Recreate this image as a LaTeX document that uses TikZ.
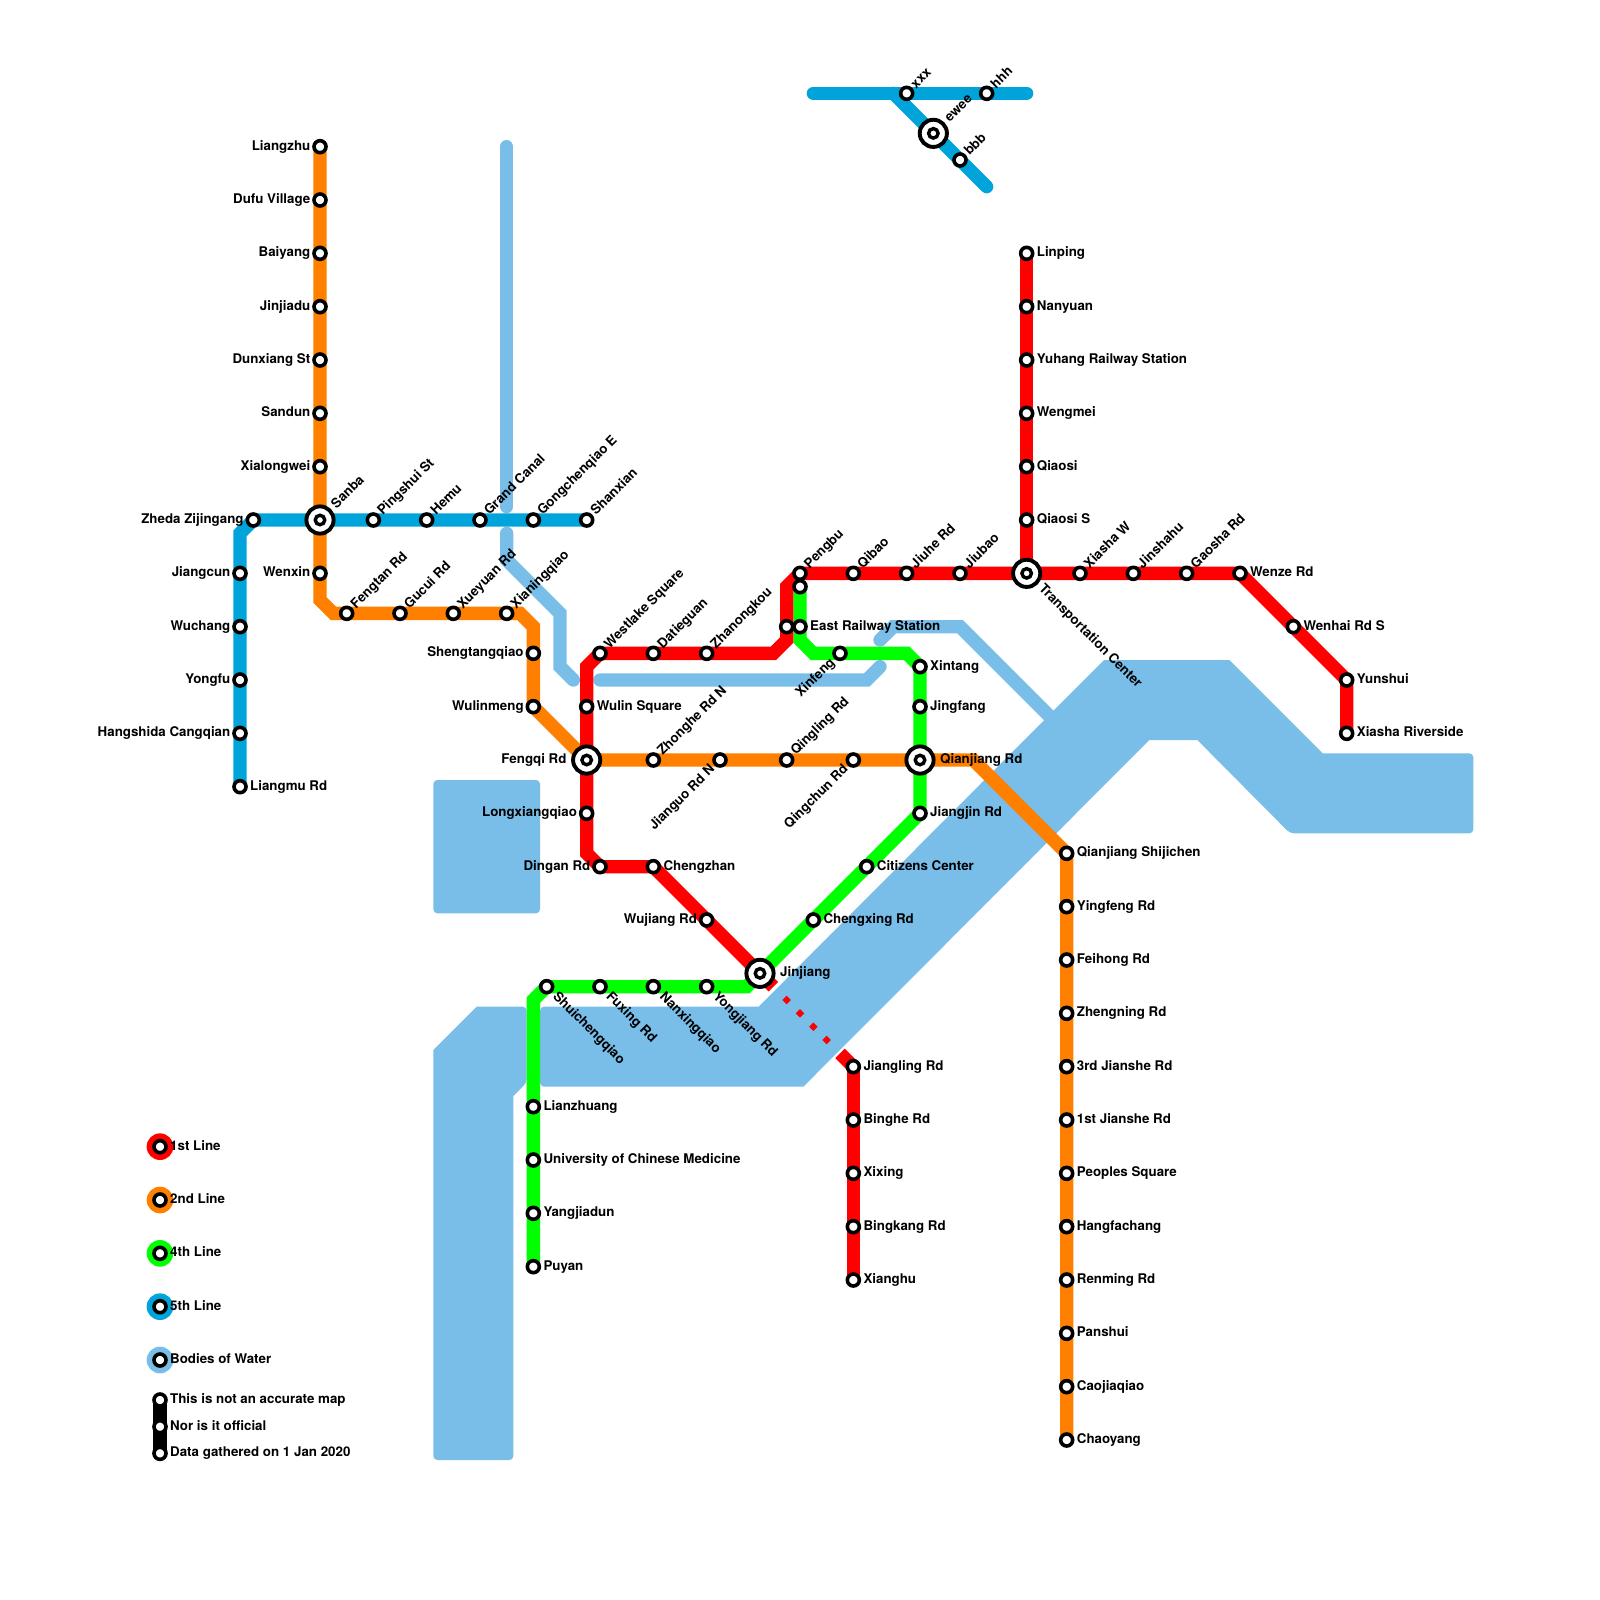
\documentclass[tikz,border=0pt]{standalone}
\usepackage{fontspec}
\setmainfont{TeX Gyre Heros}
\usetikzlibrary{shapes.geometric}
\pgfdeclarelayer{under}
\pgfsetlayers{under,main}
\definecolor{cred}{HTML}{FF0000}
\definecolor{corange}{HTML}{FF8000}
\definecolor{cgreen}{HTML}{00FF00}
\definecolor{cblue}{HTML}{00A4DB}
\definecolor{cwater}{HTML}{79BDE9}
\tikzset{
  stn/.style={circle,draw=black,fill=white,line width=3.6pt,inner sep=0pt,outer sep=0pt,minimum size=12pt},
  ringout/.style={circle,draw=black,fill=white,line width=3.9pt,inner sep=0pt,outer sep=0pt,minimum size=27.2pt},
  ringin/.style={circle,draw=black,fill=white,line width=3.4pt,inner sep=0pt,outer sep=0pt,minimum size=9.5pt},
  lab/.style={inner sep=0pt,text height=9.6pt,text depth=2.8pt,font=\bfseries\fontsize{13.33}{15}\selectfont,text=black},
  lr/.style={xshift=10pt,anchor=west},
  ll/.style={xshift=-9.5pt,anchor=east},
  lu/.style={xshift=7pt,yshift=6.5pt,anchor=west,rotate=45},
  ld/.style={xshift=8pt,yshift=-8pt,anchor=west,rotate=-45},
  lb/.style={xshift=-7pt,yshift=-7.5pt,anchor=east,rotate=45},
  ichr/.style={xshift=20pt,anchor=west},
  ichl/.style={xshift=-20pt,anchor=east},
  ichu/.style={xshift=14pt,yshift=13pt,anchor=west,rotate=45},
  ichd/.style={xshift=14pt,yshift=-14pt,anchor=west,rotate=-45},
  rte/.style={line width=13.33pt,line cap=round,line join=miter,draw=#1},
  cut/.style={line width=13.33pt,line cap=butt,draw=#1},
  waterway/.style={line width=13.33pt,line cap=round,line join=miter,draw=cwater},
  waterarea/.style={fill=cwater},
  tunneldot/.style={diamond,fill=cred,inner sep=0pt,outer sep=0pt,minimum size=8.5pt},
  keydot/.style={circle,fill=#1,inner sep=0pt,outer sep=0pt,minimum size=26.67pt},
}
\newcommand\Sta[5]{\node[stn] (#2) at (#3,#4) {}; \node[lab,#1] (#2t) at (#2.center) {#5};}
\newcommand\Blank[3]{\node[stn] (#1) at (#2,#3) {};}
\newcommand\Ich[5]{\node[ringout] (#2o) at (#3,#4) {}; \node[ringin] (#2) at (#3,#4) {}; \node[lab,#1] (#2t) at (#2.center) {#5};}
\newcommand\Route[3]{\draw[rte=#1] (#2.center) foreach \n in {#3} { -- (\n.center) };}
\begin{document}
\begin{tikzpicture}[x=13.3333pt,y=-13.3333pt]
\useasboundingbox (0,0) rectangle (120,120);
% ---- bends
\foreach \nm/\xx/\yy in {
 oa/24/45, ob/25/46, oc/39/46, od/40/47, oe/73/57,
 ra/60/43, rb/59/44, rc/59/48, rd/58/49, re/44/50, rf/44/64, rg/63/79, rh/58/74,
 ga/40/75, gb/56/74, gc/69/50, gd/68/49, ge/61/49, gf/60/48,
 ba/18/40, bb/61/7, bc/77/7, bd/67/7, be/74/14,
 wa/38/11, wb/38/38, wc/38/40, wd/38/42, we/42/46, wf/42/50, wg/43/51,
 wh/45/51, wi/65/51, wj/66/50, wk/66/48, wl/67/47, wm/72/47, wn/80/55
}{\coordinate (\nm) at (\xx,\yy);}
% ---- line 2 stations
\Sta{ll}{liangzhu}{24}{11}{Liangzhu}
\Sta{ll}{dufu}{24}{15}{Dufu Village}
\Sta{ll}{baiyang}{24}{19}{Baiyang}
\Sta{ll}{jinjiadu}{24}{23}{Jinjiadu}
\Sta{ll}{dunxiang}{24}{27}{Dunxiang St}
\Sta{ll}{sandun}{24}{31}{Sandun}
\Sta{ll}{xialongwei}{24}{35}{Xialongwei}
\Ich{ichu}{sanba}{24}{39}{Sanba}
\Sta{ll}{wenxin}{24}{43}{Wenxin}
\Sta{lu}{fengtan}{26}{46}{Fengtan Rd}
\Sta{lu}{gucui}{30}{46}{Gucui Rd}
\Sta{lu}{xueyuan}{34}{46}{Xueyuan Rd}
\Sta{lu}{xianing}{38}{46}{Xianingqiao}
\Sta{ll}{shengtang}{40}{49}{Shengtangqiao}
\Sta{ll}{wulinmeng}{40}{53}{Wulinmeng}
\Ich{ichl}{fengqi}{44}{57}{Fengqi Rd}
\Sta{lu}{zhonghe}{49}{57}{Zhonghe Rd N}
\Sta{lb}{jianguo}{54}{57}{Jianguo Rd N}
\Sta{lu}{qingling}{59}{57}{Qingling Rd}
\Sta{lb}{qingchun}{64}{57}{Qingchun Rd}
\Ich{ichr}{qianjiang}{69}{57}{Qianjiang Rd}
\Sta{lr}{shijichen}{80}{64}{Qianjiang Shijichen}
\Sta{lr}{yingfeng}{80}{68}{Yingfeng Rd}
\Sta{lr}{feihong}{80}{72}{Feihong Rd}
\Sta{lr}{zhengning}{80}{76}{Zhengning Rd}
\Sta{lr}{jianshec}{80}{80}{3rd Jianshe Rd}
\Sta{lr}{jianshea}{80}{84}{1st Jianshe Rd}
\Sta{lr}{peoples}{80}{88}{Peoples Square}
\Sta{lr}{hangfa}{80}{92}{Hangfachang}
\Sta{lr}{renming}{80}{96}{Renming Rd}
\Sta{lr}{panshui}{80}{100}{Panshui}
\Sta{lr}{caojia}{80}{104}{Caojiaqiao}
\Sta{lr}{chaoyang}{80}{108}{Chaoyang}
% ---- line 5 stations
\Sta{lr}{liangmu}{18}{59}{Liangmu Rd}
\Sta{ll}{hangshida}{18}{55}{Hangshida Cangqian}
\Sta{ll}{yongfu}{18}{51}{Yongfu}
\Sta{ll}{wuchang}{18}{47}{Wuchang}
\Sta{ll}{jiangcun}{18}{43}{Jiangcun}
\Sta{ll}{zheda}{19}{39}{Zheda Zijingang}
\Sta{lu}{pingshui}{28}{39}{Pingshui St}
\Sta{lu}{hemu}{32}{39}{Hemu}
\Sta{lu}{grandcanal}{36}{39}{Grand Canal}
\Sta{lu}{gongchen}{40}{39}{Gongchenqiao E}
\Sta{lu}{shanxian}{44}{39}{Shanxian}
\Sta{lu}{xxx}{68}{7}{xxx}
\Sta{lu}{hhh}{74}{7}{hhh}
\Ich{ichu}{ewee}{70}{10}{ewee}
\Sta{lu}{bbb}{72}{12}{bbb}
% ---- line 1 stations
\Sta{lr}{linping}{77}{19}{Linping}
\Sta{lr}{nanyuan}{77}{23}{Nanyuan}
\Sta{lr}{yuhang}{77}{27}{Yuhang Railway Station}
\Sta{lr}{wengmei}{77}{31}{Wengmei}
\Sta{lr}{qiaosi}{77}{35}{Qiaosi}
\Sta{lr}{qiaosis}{77}{39}{Qiaosi S}
\Ich{ichd}{transport}{77}{43}{Transportation Center}
\Sta{lu}{xiashaw}{81}{43}{Xiasha W}
\Sta{lu}{jinshahu}{85}{43}{Jinshahu}
\Sta{lu}{gaosha}{89}{43}{Gaosha Rd}
\Sta{lr}{wenze}{93}{43}{Wenze Rd}
\Sta{lr}{wenhai}{97}{47}{Wenhai Rd S}
\Sta{lr}{yunshui}{101}{51}{Yunshui}
\Sta{lr}{riverside}{101}{55}{Xiasha Riverside}
\Sta{lu}{pengbu}{60}{43}{Pengbu}
\Sta{lu}{qibao}{64}{43}{Qibao}
\Sta{lu}{jiuhe}{68}{43}{Jiuhe Rd}
\Sta{lu}{jiubao}{72}{43}{Jiubao}
\Blank{eastr}{59}{47}
\Sta{lu}{zhanong}{53}{49}{Zhanongkou}
\Sta{lu}{datie}{49}{49}{Datieguan}
\Sta{lu}{westlake}{45}{49}{Westlake Square}
\Sta{lr}{wulinsq}{44}{53}{Wulin Square}
\Sta{ll}{longxiang}{44}{61}{Longxiangqiao}
\Sta{ll}{dingan}{45}{65}{Dingan Rd}
\Sta{lr}{chengzhan}{49}{65}{Chengzhan}
\Sta{ll}{wujiang}{53}{69}{Wujiang Rd}
\Ich{ichr}{jinjiang}{57}{73}{Jinjiang}
\Sta{lr}{jiangling}{64}{80}{Jiangling Rd}
\Sta{lr}{binghe}{64}{84}{Binghe Rd}
\Sta{lr}{xixing}{64}{88}{Xixing}
\Sta{lr}{bingkang}{64}{92}{Bingkang Rd}
\Sta{lr}{xianghu}{64}{96}{Xianghu}
\node[tunneldot] (tda) at (59,75) {};
\node[tunneldot] (tdb) at (60,76) {};
\node[tunneldot] (tdc) at (61,77) {};
\node[tunneldot] (tdd) at (62,78) {};
% ---- line 4 stations
\Sta{lr}{puyan}{40}{95}{Puyan}
\Sta{lr}{yangjia}{40}{91}{Yangjiadun}
\Sta{lr}{univ}{40}{87}{University of Chinese Medicine}
\Sta{lr}{lianzhuang}{40}{83}{Lianzhuang}
\Sta{ld}{shuicheng}{41}{74}{Shuichengqiao}
\Sta{ld}{fuxing}{45}{74}{Fuxing Rd}
\Sta{ld}{nanxing}{49}{74}{Nanxingqiao}
\Sta{ld}{yongjiang}{53}{74}{Yongjiang Rd}
\Sta{lr}{chengxing}{61}{69}{Chengxing Rd}
\Sta{lr}{citizens}{65}{65}{Citizens Center}
\Sta{lr}{jiangjin}{69}{61}{Jiangjin Rd}
\Sta{lr}{jingfang}{69}{53}{Jingfang}
\Sta{lr}{xintang}{69}{50}{Xintang}
\Sta{lb}{xinfeng}{63}{49}{Xinfeng}
\Sta{lr}{eastg}{60}{47}{East Railway Station}
\Blank{peng}{60}{44}
% ---- legend
\node[keydot=cred] (ka) at (12,86) {};
\node[keydot=corange] (kb) at (12,90) {};
\node[keydot=cgreen] (kc) at (12,94) {};
\node[keydot=cblue] (kd) at (12,98) {};
\node[keydot=cwater] (ke) at (12,102) {};
\Sta{lr}{keya}{12}{86}{1st Line}
\Sta{lr}{keyb}{12}{90}{2nd Line}
\Sta{lr}{keyc}{12}{94}{4th Line}
\Sta{lr}{keyd}{12}{98}{5th Line}
\Sta{lr}{keye}{12}{102}{Bodies of Water}
\Sta{lr}{notea}{12}{105}{This is not an accurate map}
\Sta{lr}{noteb}{12}{107}{Nor is it official}
\Sta{lr}{notec}{12}{109}{Data gathered on 1 Jan 2020}
% ---- everything under the stations
\begin{pgfonlayer}{under}
\fill[white] (0,0) rectangle (120,120);
% water areas
\fill[waterarea,rounded corners=4pt] (32.5,58.5) rectangle (40.5,68.5);
\fill[waterarea] (32.5,78.75) -- (35.75,75.5) [rounded corners=4pt] -- (39.5,75.5) -- (39.5,81.2) [sharp corners] -- (38.5,82.2) [rounded corners=4pt] -- (38.5,109.5) -- (32.5,109.5) [sharp corners] -- cycle;
\fill[waterarea] (56.9,75.5) -- (82.8,49.5) -- (92.2,49.5) -- (99.2,56.5) [rounded corners=4pt] -- (110.5,56.5) -- (110.5,62.5) -- (96.75,62.5) [sharp corners] -- (89.8,55.5) -- (86.2,55.5) -- (60.25,81.5) [rounded corners=4pt] -- (40.5,81.5) -- (40.5,75.5) [sharp corners] -- cycle;
% water lines
\draw[waterway] (wa.center) -- (wb.center);
\draw[waterway] (wc.center) -- (wd.center) -- (we.center) -- (wf.center) -- (wg.center);
\draw[waterway] (wh.center) -- (wi.center) -- (wj.center);
\draw[waterway] (wk.center) -- (wl.center) -- (wm.center) -- (wn.center);
% line 5
\Route{cblue}{liangmu}{hangshida,yongfu,wuchang,jiangcun,ba,zheda,sanba,pingshui,hemu,grandcanal,gongchen,shanxian}
\Route{cblue}{bb}{xxx,hhh,bc}
\Route{cblue}{bd}{ewee,bbb,be}
% line 2
\Route{corange}{liangzhu}{dufu,baiyang,jinjiadu,dunxiang,sandun,xialongwei,sanba,wenxin,oa,ob,fengtan,gucui,xueyuan,xianing,oc,od,shengtang,wulinmeng,fengqi,zhonghe,jianguo,qingling,qingchun,qianjiang,oe,shijichen,yingfeng,feihong,zhengning,jianshec,jianshea,peoples,hangfa,renming,panshui,caojia,chaoyang}
% line 4
\Route{cgreen}{puyan}{yangjia,univ,lianzhuang,ga,shuicheng,fuxing,nanxing,yongjiang,gb,jinjiang,chengxing,citizens,jiangjin,qianjiang,jingfang,xintang,gd,xinfeng,ge,gf,eastg,peng}
% line 1
\Route{cred}{linping}{nanyuan,yuhang,wengmei,qiaosi,qiaosis,transport}
\Route{cred}{transport}{xiashaw,jinshahu,gaosha,wenze,wenhai,yunshui,riverside}
\Route{cred}{transport}{jiubao,jiuhe,qibao,pengbu,rb,eastr,rc,rd,zhanong,datie,westlake,re,wulinsq,fengqi,longxiang,rf,dingan,chengzhan,wujiang,jinjiang}
\draw[cut=cred] (jinjiang.center) -- (rh.center);
\draw[cut=cred] (rg.center) -- (jiangling.center);
\Route{cred}{jiangling}{binghe,xixing,bingkang,xianghu}
% legend bar
\Route{black}{notea}{noteb,notec}
\end{pgfonlayer}
\end{tikzpicture}
\end{document}
